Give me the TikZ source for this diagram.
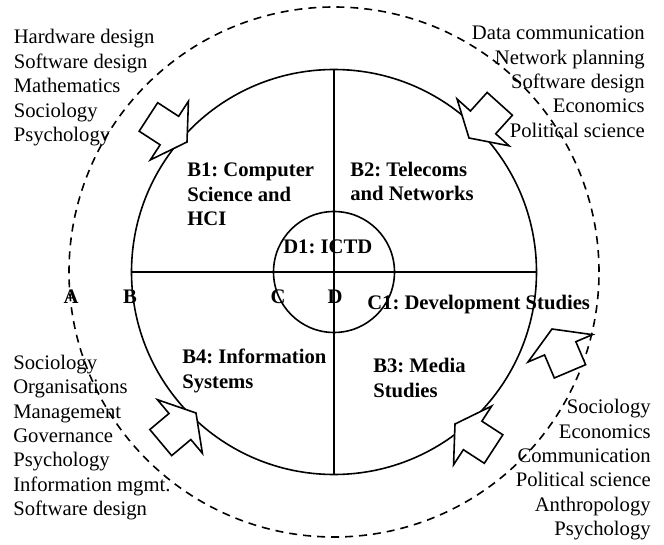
\documentclass[tikz,border=0pt]{standalone}
\usepackage{fontspec}
\setmainfont{Liberation Serif}
\frenchspacing

\begin{document}
\begin{tikzpicture}[x=0.75pt,y=-0.75pt]
    \tikzstyle{every node}=[font=\fontsize{15.5}{18.3}\selectfont, inner sep=0pt]
    \tikzstyle{ring}=[draw, circle, line width=1.2pt]
    \tikzstyle{lbl}=[font=\fontsize{15.5}{18.3}\selectfont\bfseries, align=left, anchor=base west]
    \tikzstyle{inflow}=[draw, line width=1.2pt, fill=white, line join=miter]
    \useasboundingbox (0,0) rectangle (664,545);

    \node[ring, dashed, dash pattern=on 6pt off 4.5pt, minimum size=397.5pt] (field) at (334,272) {};
    \node[ring, minimum size=303.75pt] (disc) at (334,272) {};
    \node[ring, minimum size=90.75pt] (core) at (334,272) {};
    \draw[line width=1.2pt] (disc.west) -- (disc.east);
    \draw[line width=1.2pt] (disc.north) -- (disc.south);

    \foreach \x/\y/\a in {187/142/-33, 469/138/-132, 196/413/40, 455/424/147, 552/329/113}
        \draw[inflow, shift={(\x,\y)}, rotate=\a] (0,0) -- (-21,35) -- (-21,17)
        -- (-46,17) -- (-46,-17) -- (-21,-17) -- (-21,-35) -- cycle;

    \node[anchor=base west, align=left] (hwlist) at (13.5,141.6) {Hardware design\\
    Software design\\Mathematics\\Sociology\\Psychology};

    \node[anchor=base east, align=right] (netlist) at (645,137.3) {Data communication\\
    Network planning\\Software design\\Economics\\Political science};

    \node[anchor=base west, align=left] (orglist) at (13,515.6) {Sociology\\Organisations\\
    Management\\Governance\\Psychology\\Information mgmt.\\Software design};

    \node[anchor=base east, align=right] (devlist) at (651,535.6) {Sociology\\Economics\\
    Communication\\Political science\\Anthropology\\Psychology};

    \node[lbl] (bone) at (187,225.5) {B1: Computer\\Science and\\HCI};
    \node[lbl] (btwo) at (350,200.5) {B2: Telecoms\\and Networks};
    \node[lbl] (done) at (283,254) {D1: ICTD};
    \node[lbl] (cone) at (367,310) {C1: Development Studies};
    \node[lbl] (bfour) at (182,388) {B4: Information\\Systems};
    \node[lbl] (bthree) at (373,397) {B3: Media\\Studies};

    \foreach \t/\x in {A/71,B/130,C/278,D/335}
        \node[lbl, anchor=base] (mark\t) at (\x,304) {\t};

\end{tikzpicture}
\end{document}
